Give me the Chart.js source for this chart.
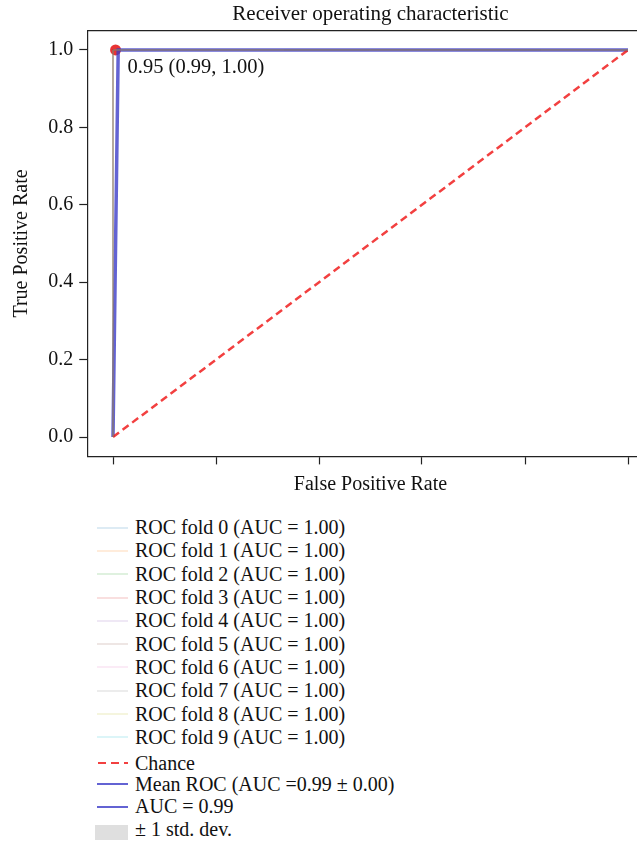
<!DOCTYPE html>
<html>
<head>
<meta charset="utf-8">
<script src="https://cdn.jsdelivr.net/npm/chart.js@4"></script>
<style>
  body { margin: 0; background: #fff; width: 637px; height: 842px; overflow: hidden; position: relative; font-family: "Liberation Serif", serif; }
  #wrap { position: absolute; left: 0; top: 0; width: 660px; height: 500px; }
  #legend { position: absolute; left: 95px; top: 516px; font-size: 20px; color: #111; }
  .row { display: flex; align-items: center; height: 23.3px; white-space: nowrap; }
  .row.chance { height: 21px; padding-top: 4px; }
  .row.mean { height: 21px; }
  .row svg { width: 36px; height: 16px; margin-right: 4px; flex: none; }
</style>
</head>
<body>
<div id="wrap"><canvas id="roc" width="660" height="500"></canvas></div>
<div id="legend"></div>
<script>
// ── data ────────────────────────────────────────────────────────────────────
const foldNames  = ['ROC fold 0', 'ROC fold 1', 'ROC fold 2', 'ROC fold 3', 'ROC fold 4',
                    'ROC fold 5', 'ROC fold 6', 'ROC fold 7', 'ROC fold 8', 'ROC fold 9'];
const foldAuc    = [1.00, 1.00, 1.00, 1.00, 1.00, 1.00, 1.00, 1.00, 1.00, 1.00];
const foldFpr    = [[0, 0, 1], [0, 0, 1], [0, 0, 1], [0, 0, 1], [0, 0, 1],
                    [0, 0, 1], [0, 0, 1], [0, 0, 1], [0, 0, 1], [0, 0, 1]];
const foldTpr    = [[0, 1, 1], [0, 1, 1], [0, 1, 1], [0, 1, 1], [0, 1, 1],
                    [0, 1, 1], [0, 1, 1], [0, 1, 1], [0, 1, 1], [0, 1, 1]];
const chanceFpr  = [0, 1];
const chanceTpr  = [0, 1];
const meanFpr    = [0, 0.0101, 1];
const meanTpr    = [0, 1.00, 1.00];
const tprUpper   = [0, 1.00, 1.00];
const tprLower   = [0, 1.00, 1.00];
const meanAuc    = 0.99;
const stdAuc     = 0.00;
const bestPoint  = { fpr: 0.005, tpr: 1.00, thr: 0.95 };
const xTicks     = [0, 0.2, 0.4, 0.6, 0.8, 1.0];
const yTicks     = [0, 0.2, 0.4, 0.6, 0.8, 1.0];

const tab10 = ['31,119,180', '255,127,14', '44,160,44', '214,39,40', '148,103,189',
               '140,86,75', '227,119,194', '127,127,127', '188,189,34', '23,190,207'];
const MEAN_C   = 'rgba(60,60,200,0.8)';
const CHANCE_C = 'rgba(240,30,30,0.85)';
const FONT = '"Liberation Serif", serif';

const pts = (xs, ys) => xs.map((x, i) => ({ x, y: ys[i] }));

const datasets = [];
foldNames.forEach((n, i) => datasets.push({
  label: `${n} (AUC = ${foldAuc[i].toFixed(2)})`,
  data: pts(foldFpr[i], foldTpr[i]),
  borderColor: `rgba(${tab10[i]},0.2)`, borderWidth: 1
}));
datasets.push({ label: 'Chance', data: pts(chanceFpr, chanceTpr), borderColor: CHANCE_C, borderWidth: 2.5, borderDash: [7.5, 4.5] });
datasets.push({ label: 'lower', data: pts(meanFpr, tprLower), borderWidth: 0, borderColor: 'transparent' });
datasets.push({ label: '± 1 std. dev.', data: pts(meanFpr, tprUpper), borderWidth: 0, borderColor: 'transparent',
                fill: '-1', backgroundColor: 'rgba(128,128,128,0.2)' });
datasets.push({ label: `Mean ROC (AUC =${meanAuc.toFixed(2)} ± ${stdAuc.toFixed(2)})`, data: pts(meanFpr, meanTpr),
                borderColor: MEAN_C, borderWidth: 3.5 });
datasets.push({ label: 'best', data: [{ x: bestPoint.fpr, y: bestPoint.tpr }], showLine: false,
                pointRadius: 5.5, pointBackgroundColor: 'rgba(230,30,30,0.9)', pointBorderWidth: 0 });

const frameAndNote = {
  id: 'frameAndNote',
  afterDatasetsDraw(chart) {
    const { ctx, chartArea: a, scales } = chart;
    ctx.save();
    ctx.strokeStyle = '#222';
    ctx.lineWidth = 1.2;
    ctx.beginPath();
    ctx.moveTo(a.left, a.top); ctx.lineTo(a.right, a.top); ctx.lineTo(a.right, a.bottom);
    ctx.stroke();
    const px = scales.x.getPixelForValue(bestPoint.fpr);
    const py = scales.y.getPixelForValue(bestPoint.tpr);
    ctx.fillStyle = '#111';
    ctx.font = `20.5px ${FONT}`;
    ctx.textBaseline = 'middle';
    ctx.fillText(`${bestPoint.thr.toFixed(2)} (${meanAuc.toFixed(2)}, ${bestPoint.tpr.toFixed(2)})`, px + 12, py + 18);
    ctx.restore();
  }
};

const axisCommon = {
  type: 'linear', min: -0.05, max: 1.05,
  grid: { drawOnChartArea: false, drawTicks: true, tickLength: 8, tickColor: '#222', tickWidth: 1.2 },
  border: { display: true, color: '#222', width: 1.2 }
};

new Chart(document.getElementById('roc'), {
  type: 'scatter',
  data: { datasets },
  options: {
    responsive: false, animation: false, devicePixelRatio: 1,
    datasets: { scatter: { showLine: true, pointRadius: 0, fill: false } },
    layout: { padding: { left: 0, right: 6.25, top: 0, bottom: 0 } },
    plugins: {
      legend: { display: false },
      tooltip: { enabled: false },
      title: { display: true, text: 'Receiver operating characteristic', fullSize: false, color: '#111',
               font: { family: FONT, size: 21, weight: 'normal' }, padding: { top: 2, bottom: 3.4 } }
    },
    scales: {
      x: { ...axisCommon,
        ticks: { display: false },
        afterBuildTicks: s => { s.ticks = xTicks.map(v => ({ value: v })); },
        afterFit: s => { s.height = 43.6; },
        title: { display: true, text: 'False Positive Rate', color: '#111',
                 font: { family: FONT, size: 20 }, padding: { top: 0, bottom: 3 } }
      },
      y: { ...axisCommon,
        ticks: { color: '#111', padding: 6, font: { family: FONT, size: 20 }, callback: v => v.toFixed(1) },
        afterBuildTicks: s => { s.ticks = yTicks.map(v => ({ value: v })); },
        afterFit: s => { s.width = 87.25; },
        title: { display: true, text: 'True Positive Rate', color: '#111',
                 font: { family: FONT, size: 20 }, padding: { top: 10, bottom: 0 } }
      }
    }
  },
  plugins: [frameAndNote]
});

// ── legend below the plot ───────────────────────────────────────────────────
const legendRows = [];
foldNames.forEach((n, i) => legendRows.push({ text: `${n} (AUC = ${foldAuc[i].toFixed(2)})`, kind: 'line', color: `rgba(${tab10[i]},0.3)`, w: 1 }));
legendRows.push({ text: 'Chance', kind: 'dash', color: CHANCE_C, w: 2, cls: 'chance' });
legendRows.push({ text: `Mean ROC (AUC =${meanAuc.toFixed(2)} ± ${stdAuc.toFixed(2)})`, kind: 'line', color: MEAN_C, w: 2, cls: 'mean' });
legendRows.push({ text: `AUC = ${meanAuc.toFixed(2)}`, kind: 'line', color: MEAN_C, w: 2 });
legendRows.push({ text: '± 1 std. dev.', kind: 'box', color: 'rgba(128,128,128,0.25)' });

document.getElementById('legend').innerHTML = legendRows.map(r => {
  let mark;
  if (r.kind === 'box') mark = `<rect x="0" y="3" width="33" height="15" fill="${r.color}"/>`;
  else if (r.kind === 'dash') mark = `<line x1="3" y1="8" x2="33" y2="8" stroke="${r.color}" stroke-width="${r.w}" stroke-dasharray="8,5"/>`;
  else mark = `<line x1="2" y1="8" x2="33" y2="8" stroke="${r.color}" stroke-width="${r.w}"/>`;
  return `<div class="row ${r.cls || ''}"><svg viewBox="0 0 36 16" overflow="visible">${mark}</svg><span>${r.text}</span></div>`;
}).join('');
</script>
</body>
</html>
